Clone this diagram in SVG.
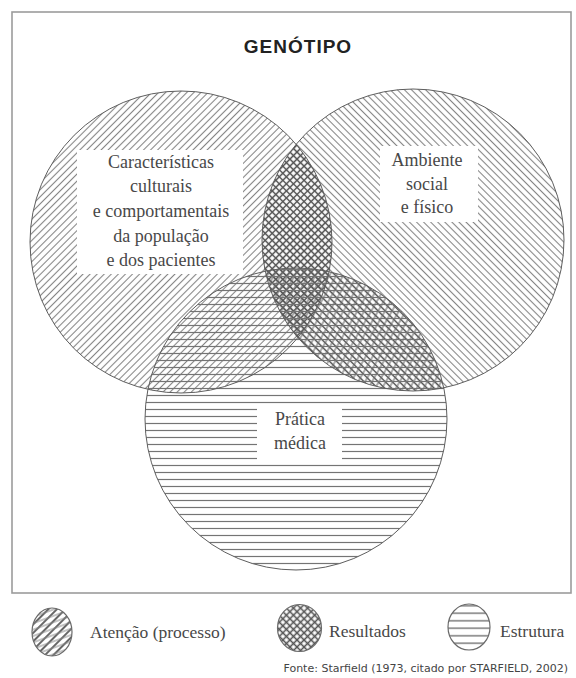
<svg xmlns="http://www.w3.org/2000/svg" width="576" height="678" viewBox="0 0 576 678">
<style>
 .frame{fill:none;stroke:#9c9c9c;stroke-width:1.6}
 .title{font-family:"Liberation Sans",Arial,sans-serif;font-weight:bold;font-size:19px;letter-spacing:1px;fill:#222;text-anchor:middle}
 .lbl{font-family:"Liberation Serif","Times New Roman",serif;font-size:18px;fill:#484848;text-anchor:middle}
 .leg{font-family:"Liberation Serif","Times New Roman",serif;font-size:17.5px;fill:#484848}
 .src{font-family:"DejaVu Sans",Verdana,sans-serif;font-size:11px;fill:#444;text-anchor:end}
 .ring{fill:none;stroke:#5e5e5e;stroke-width:1}
 .box{fill:#fff}
 .lgring{stroke:#6a6a6a;stroke-width:1.2}
</style>
<defs>
 <pattern id="pFwd" width="5" height="5" patternUnits="userSpaceOnUse" patternTransform="rotate(45)">
  <line x1="2.5" y1="0" x2="2.5" y2="5" stroke="#858585" stroke-width="1.1"/>
 </pattern>
 <pattern id="pBack" width="5" height="5" patternUnits="userSpaceOnUse" patternTransform="rotate(-45)">
  <line x1="2.5" y1="0" x2="2.5" y2="5" stroke="#858585" stroke-width="1.1"/>
 </pattern>
 <pattern id="pFwdD" width="5" height="5" patternUnits="userSpaceOnUse" patternTransform="rotate(45)">
  <line x1="2.5" y1="0" x2="2.5" y2="5" stroke="#555" stroke-width="1.3"/>
 </pattern>
 <pattern id="pBackD" width="5" height="5" patternUnits="userSpaceOnUse" patternTransform="rotate(-45)">
  <line x1="2.5" y1="0" x2="2.5" y2="5" stroke="#555" stroke-width="1.3"/>
 </pattern>
 <pattern id="pFwdW" width="6" height="6" patternUnits="userSpaceOnUse" patternTransform="rotate(30)">
  <line x1="3" y1="0" x2="3" y2="6" stroke="#6a6a6a" stroke-width="1.1"/>
 </pattern>
 <pattern id="pHor" width="10" height="7" patternUnits="userSpaceOnUse">
  <line x1="0" y1="3.5" x2="10" y2="3.5" stroke="#747474" stroke-width="1.2"/>
 </pattern>
 <pattern id="pLegA" width="6" height="6" patternUnits="userSpaceOnUse" patternTransform="rotate(45)">
  <line x1="3" y1="0" x2="3" y2="6" stroke="#666" stroke-width="2"/>
 </pattern>
 <pattern id="pLegA2" width="10" height="6" patternUnits="userSpaceOnUse" patternTransform="rotate(-20)">
  <line x1="0" y1="3" x2="10" y2="3" stroke="#888" stroke-width="1"/>
 </pattern>
 <pattern id="pLegB" width="5" height="5" patternUnits="userSpaceOnUse" patternTransform="rotate(45)">
  <line x1="2.5" y1="0" x2="2.5" y2="5" stroke="#555" stroke-width="1.6"/>
  <line x1="0" y1="2.5" x2="5" y2="2.5" stroke="#555" stroke-width="1.6"/>
 </pattern>
 <pattern id="pLegC" width="10" height="7.5" patternUnits="userSpaceOnUse" y="2">
  <line x1="0" y1="3.75" x2="10" y2="3.75" stroke="#666" stroke-width="1.3"/>
 </pattern>
 <clipPath id="clipL"><circle cx="181" cy="242" r="151"/></clipPath>
 <clipPath id="clipB"><circle cx="296" cy="419" r="151"/></clipPath>
</defs>

<rect class="frame" x="12" y="12" width="559" height="581"/>

<g id="title">
 <text class="title" x="298" y="53">GENÓTIPO</text>
</g>

<g id="circle-caracteristicas">
 <circle cx="181" cy="242" r="151" fill="url(#pFwd)"/>
</g>
<g id="circle-ambiente">
 <circle cx="413" cy="240" r="151" fill="url(#pBack)"/>
</g>
<g id="lens" clip-path="url(#clipL)">
 <circle cx="413" cy="240" r="151" fill="url(#pFwdD)"/>
 <circle cx="413" cy="240" r="151" fill="url(#pBackD)"/>
</g>
<g id="right-bottom" clip-path="url(#clipB)">
 <circle cx="413" cy="240" r="151" fill="url(#pBackD)"/>
 <circle cx="413" cy="240" r="151" fill="url(#pFwdW)"/>
</g>
<g id="circle-pratica">
 <circle cx="296" cy="419" r="151" fill="url(#pHor)"/>
</g>
<g id="outlines">
 <circle class="ring" cx="181" cy="242" r="151"/>
 <circle class="ring" cx="413" cy="240" r="151"/>
 <circle class="ring" cx="296" cy="419" r="151"/>
</g>

<g id="label-caracteristicas">
 <rect class="box" x="77" y="150" width="166" height="124"/>
 <text class="lbl" x="161" y="168">Características</text>
 <text class="lbl" x="161" y="192">culturais</text>
 <text class="lbl" x="161" y="217">e comportamentais</text>
 <text class="lbl" x="161" y="242">da população</text>
 <text class="lbl" x="161" y="266">e dos pacientes</text>
</g>
<g id="label-ambiente">
 <rect class="box" x="380" y="146" width="98" height="76"/>
 <text class="lbl" x="427" y="166">Ambiente</text>
 <text class="lbl" x="427" y="190">social</text>
 <text class="lbl" x="427" y="213">e físico</text>
</g>
<g id="label-pratica">
 <rect class="box" x="257" y="408" width="85" height="54"/>
 <text class="lbl" x="300" y="425">Prática</text>
 <text class="lbl" x="300" y="449">médica</text>
</g>

<g id="connectors"/>

<g id="legend-atencao">
 <ellipse cx="52" cy="632" rx="20" ry="24" fill="url(#pLegA)"/>
 <ellipse cx="52" cy="632" rx="20" ry="24" fill="url(#pLegA2)" class="lgring"/>
 <text class="leg" x="90" y="638">Atenção (processo)</text>
</g>
<g id="legend-resultados">
 <ellipse cx="299.5" cy="628" rx="22" ry="23.5" fill="url(#pLegB)" class="lgring"/>
 <text class="leg" x="329" y="637">Resultados</text>
</g>
<g id="legend-estrutura">
 <ellipse cx="469" cy="627" rx="21" ry="23" fill="url(#pLegC)" class="lgring"/>
 <text class="leg" x="500" y="637">Estrutura</text>
</g>

<g id="source">
 <text class="src" x="568" y="672">Fonte: Starfield (1973, citado por STARFIELD, 2002)</text>
</g>
</svg>
